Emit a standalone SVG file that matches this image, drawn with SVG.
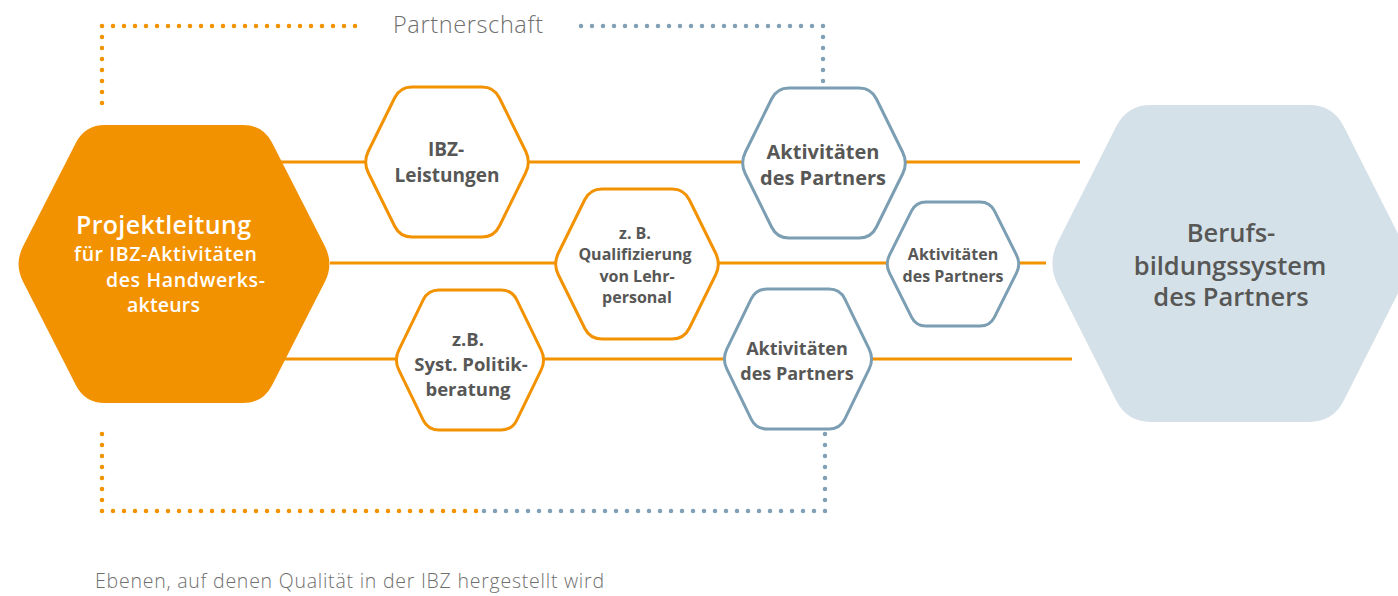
<svg xmlns="http://www.w3.org/2000/svg" xmlns:xlink="http://www.w3.org/1999/xlink" width="1398" height="596" viewBox="0 0 1398 596">
  <style>
    .link { fill: none; stroke: #F39200; stroke-width: 3; }
    .dotO { fill: none; stroke: #F39200; stroke-width: 4.5; stroke-linecap: round; stroke-dasharray: 0 11; }
    .dotB { fill: none; stroke: #7FA0B5; stroke-width: 4.5; stroke-linecap: round; stroke-dasharray: 0 11; }
    .hexO { fill: #FFFFFF; stroke: #F39200; stroke-width: 3; }
    .hexB { fill: #FFFFFF; stroke: #7B9EB3; stroke-width: 3; }
    .lbl { font-family: "Open Sans", "Liberation Sans", sans-serif; font-weight: 700; fill: #575756; text-anchor: middle; }
    .lead { font-family: "Open Sans", "Liberation Sans", sans-serif; font-weight: 600; fill: #FFFFFF; }
    .big { font-family: "Open Sans", "Liberation Sans", sans-serif; font-weight: 600; fill: #575756; text-anchor: middle; font-size: 25.5px; }
    .light { font-family: "Open Sans", "Liberation Sans", sans-serif; font-weight: 300; fill: #6F6F6E; }
  </style>
  <defs>
    <path id="hexA" d="M -78.69,-10.76 L -52.31,-64.24 Q -47,-75 -35,-75 L 35,-75 Q 47,-75 52.31,-64.24 L 78.69,-10.76 Q 84,0 78.69,10.76 L 52.31,64.24 Q 47,75 35,75 L -35,75 Q -47,75 -52.31,64.24 L -78.69,10.76 Q -84,0 -78.69,-10.76 Z"/>
    <path id="hexB" d="M -71.19,-9.89 L -46.81,-60.11 Q -42,-70 -31,-70 L 31,-70 Q 42,-70 46.81,-60.11 L 71.19,-9.89 Q 76,0 71.19,9.89 L 46.81,60.11 Q 42,70 31,70 L -31,70 Q -42,70 -46.81,60.11 L -71.19,9.89 Q -76,0 -71.19,-9.89 Z"/>
    <path id="hexC" d="M -63.53,-8.94 L -41.47,-53.06 Q -37,-62 -27,-62 L 27,-62 Q 37,-62 41.47,-53.06 L 63.53,-8.94 Q 68,0 63.53,8.94 L 41.47,53.06 Q 37,62 27,62 L -27,62 Q -37,62 -41.47,53.06 L -63.53,8.94 Q -68,0 -63.53,-8.94 Z"/>
  </defs>

  <g id="connectors">
    <path class="link" d="M 270,162 L 1080,162"/>
    <path class="link" d="M 330,263 L 1046,263"/>
    <path class="link" d="M 280,359 L 1072,359"/>
    <path class="dotO" d="M 102,103 L 102,26 L 360,26"/>
    <path class="dotB" d="M 823,81 L 823,26 L 575,26"/>
    <path class="dotO" d="M 102,434 L 102,511 L 478,511"/>
    <path class="dotB" d="M 825,434 L 825,511 L 480,511"/>
  </g>

  <text class="light" x="393" y="33" font-size="23.5" textLength="150">Partnerschaft</text>

  <g id="projektleitung">
    <path fill="#F39200" d="M 23.1,246.19 L 75.9,142.81 Q 85,125 105,125 L 243,125 Q 263,125 272.1,142.81 L 324.9,246.19 Q 334,264 324.9,281.81 L 272.1,385.19 Q 263,403 243,403 L 105,403 Q 85,403 75.9,385.19 L 23.1,281.81 Q 14,264 23.1,246.19 Z"/>
    <text class="lead" x="76" y="234" font-size="25" textLength="175">Projektleitung</text>
    <text class="lead" x="74" y="261" font-size="19.5" textLength="183">für IBZ-Aktivitäten</text>
    <text class="lead" x="106" y="287" font-size="19.5" textLength="159">des Handwerks-</text>
    <text class="lead" x="127" y="312" font-size="19.5" textLength="73">akteurs</text>
  </g>

  <g id="ibz-leistungen">
    <use xlink:href="#hexA" href="#hexA" class="hexO" transform="translate(447,162)"/>
    <text class="lbl" x="446" y="156" font-size="19">IBZ-</text>
    <text class="lbl" x="447" y="182" font-size="19">Leistungen</text>
  </g>

  <g id="qualifizierung">
    <use xlink:href="#hexA" href="#hexA" class="hexO" transform="translate(637,264)"/>
    <text class="lbl" x="635" y="239" font-size="16">z. B.</text>
    <text class="lbl" x="635" y="260" font-size="16">Qualifizierung</text>
    <text class="lbl" x="637" y="282" font-size="16">von Lehr-</text>
    <text class="lbl" x="637" y="303" font-size="16">personal</text>
  </g>

  <g id="politikberatung">
    <use xlink:href="#hexB" href="#hexB" class="hexO" transform="translate(470,360)"/>
    <text class="lbl" x="468" y="346" font-size="18.5">z.B.</text>
    <text class="lbl" x="471" y="371" font-size="18.5">Syst. Politik-</text>
    <text class="lbl" x="468" y="396" font-size="18.5">beratung</text>
  </g>

  <g id="aktivitaeten-1">
    <use xlink:href="#hexA" href="#hexA" class="hexB" transform="translate(824,163)"/>
    <text class="lbl" x="823" y="159" font-size="20">Aktivitäten</text>
    <text class="lbl" x="823" y="185" font-size="20">des Partners</text>
  </g>

  <g id="aktivitaeten-2">
    <use xlink:href="#hexC" href="#hexC" class="hexB" transform="translate(953,264)"/>
    <text class="lbl" x="953" y="260" font-size="16">Aktivitäten</text>
    <text class="lbl" x="953" y="282" font-size="16">des Partners</text>
  </g>

  <g id="aktivitaeten-3">
    <use xlink:href="#hexB" href="#hexB" class="hexB" transform="translate(798,359)"/>
    <text class="lbl" x="797" y="355" font-size="18">Aktivitäten</text>
    <text class="lbl" x="797" y="380" font-size="18">des Partners</text>
  </g>

  <g id="berufsbildungssystem">
    <path fill="#D5E1E9" d="M 1057.81,242.07 L 1116.19,126.43 Q 1127,105 1151,105 L 1309,105 Q 1333,105 1343.81,126.43 L 1402.19,242.07 Q 1413,263.5 1402.19,284.93 L 1343.81,400.57 Q 1333,422 1309,422 L 1151,422 Q 1127,422 1116.19,400.57 L 1057.81,284.93 Q 1047,263.5 1057.81,242.07 Z"/>
    <text class="big" x="1231" y="242">Berufs-</text>
    <text class="big" x="1230" y="275">bildungssystem</text>
    <text class="big" x="1231" y="306">des Partners</text>
  </g>

  <text class="light" x="95" y="588" font-size="19.5" textLength="509">Ebenen, auf denen Qualität in der IBZ hergestellt wird</text>
</svg>
